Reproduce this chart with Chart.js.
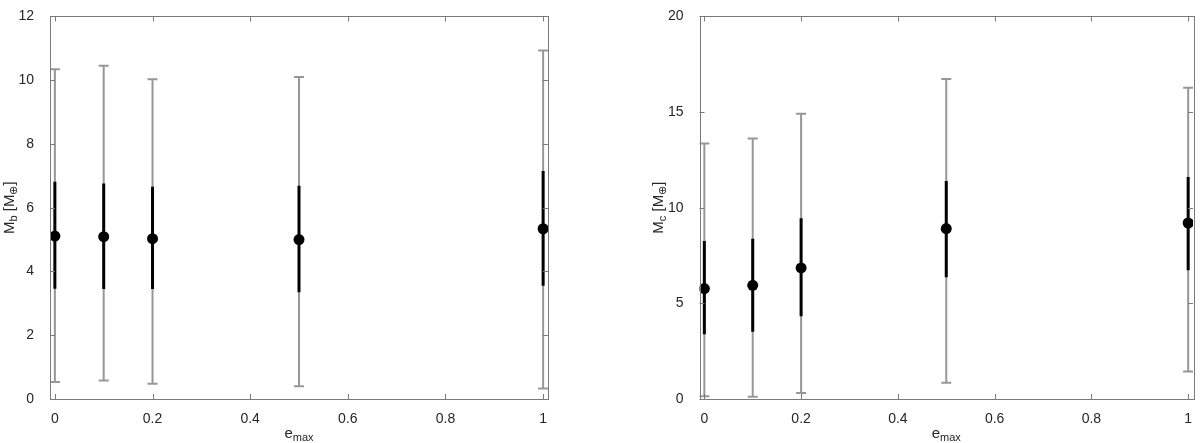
<!DOCTYPE html>
<html>
<head>
<meta charset="utf-8">
<script src="https://cdn.jsdelivr.net/npm/chart.js@4/dist/chart.umd.min.js"></script>
<style>
  html, body { margin: 0; padding: 0; background: #fff; }
  .wrap { position: absolute; top: 0; width: 600px; height: 443px; }
  #left { left: 0; }
  #right { left: 600px; }
</style>
</head>
<body>
<div class="wrap" id="left"><canvas id="cb" width="600" height="443"></canvas></div>
<div class="wrap" id="right"><canvas id="cc" width="600" height="443"></canvas></div>
<script>
/* global Chart */

// e_max values and the tick labels
const eMax = [0, 0.1, 0.2, 0.5, 1];
const xTicks = [0, 0.2, 0.4, 0.6, 0.8, 1];

// planet b mass: median, inner (black) and outer (grey) intervals
const mbMedian  = [5.11, 5.09, 5.03, 5.00, 5.34];
const mbInnerLo = [3.46, 3.45, 3.45, 3.35, 3.55];
const mbInnerHi = [6.81, 6.76, 6.66, 6.69, 7.15];
const mbOuterLo = [0.53, 0.58, 0.48, 0.40, 0.33];
const mbOuterHi = [10.34, 10.45, 10.03, 10.10, 10.93];
const mbTicks = [0, 2, 4, 6, 8, 10, 12];

// planet c mass
const mcMedian  = [5.77, 5.94, 6.85, 8.91, 9.20];
const mcInnerLo = [3.39, 3.51, 4.33, 6.36, 6.73];
const mcInnerHi = [8.26, 8.38, 9.45, 11.40, 11.60];
const mcOuterLo = [0.15, 0.12, 0.32, 0.85, 1.44];
const mcOuterHi = [13.35, 13.62, 14.91, 16.73, 16.27];
const mcTicks = [0, 5, 10, 15, 20];

const GREY = "#979797";
const AXIS = "#7a7a7a";
const TEXT = "#262626";
const FONT = "'Liberation Sans', Arial, Helvetica, sans-serif";

// draws a label with subscripts: parts = [[text, isSub], ...]
function drawRich(ctx, parts, cx, cy, rotate) {
  ctx.save();
  ctx.translate(cx, cy);
  if (rotate) ctx.rotate(-Math.PI / 2);
  const big = "15px " + FONT, small = "11px " + FONT;
  let w = 0;
  parts.forEach(([t, sub]) => { ctx.font = sub ? small : big; w += ctx.measureText(t).width; });
  let x = -w / 2;
  ctx.fillStyle = TEXT;
  ctx.textBaseline = "alphabetic";
  ctx.textAlign = "left";
  parts.forEach(([t, sub]) => {
    ctx.font = sub ? small : big;
    ctx.fillText(t, x, sub ? 8 : 5);
    x += ctx.measureText(t).width;
  });
  ctx.restore();
}

// box around the plot, inward ticks on all four sides, axis titles
const framePlugin = {
  id: "frame",
  afterDraw(chart, args, opts) {
    const { ctx, chartArea: a, scales } = chart;
    ctx.save();
    ctx.strokeStyle = AXIS;
    ctx.lineWidth = 1;
    ctx.strokeRect(Math.round(a.left) + 0.5, Math.round(a.top) + 0.5,
      Math.round(a.right - a.left), Math.round(a.bottom - a.top));
    ctx.beginPath();
    scales.x.ticks.forEach(t => {
      const px = Math.round(scales.x.getPixelForValue(t.value)) + 0.5;
      ctx.moveTo(px, a.bottom); ctx.lineTo(px, a.bottom - 5);
      ctx.moveTo(px, a.top); ctx.lineTo(px, a.top + 5);
    });
    scales.y.ticks.forEach(t => {
      const py = Math.round(scales.y.getPixelForValue(t.value)) + 0.5;
      ctx.moveTo(a.left, py); ctx.lineTo(a.left + 5, py);
      ctx.moveTo(a.right, py); ctx.lineTo(a.right - 5, py);
    });
    ctx.stroke();
    ctx.restore();
    drawRich(ctx, opts.ylabel, opts.ylabelX, (a.top + a.bottom) / 2, true);
    drawRich(ctx, opts.xlabel, (a.left + a.right) / 2, 433, false);
  }
};

function makeChart(id, med, inLo, inHi, outLo, outHi, yTicks, yMax, yWidth, padRight, ylabel, ylabelX) {
  const outer = eMax.map((x, i) => ({ x, y: [outLo[i], outHi[i]] }));
  const inner = eMax.map((x, i) => ({ x, y: [inLo[i], inHi[i]] }));
  const caps = eMax.flatMap((x, i) => [{ x, y: outLo[i] }, { x, y: outHi[i] }]);
  const dots = eMax.map((x, i) => ({ x, y: med[i] }));

  return new Chart(document.getElementById(id), {
    type: "bar",
    data: {
      datasets: [
        { type: "scatter", data: dots, order: 0, pointStyle: "circle", pointRadius: 5.5,
          backgroundColor: "#000", borderWidth: 0, clip: 0 },
        { type: "bar", data: inner, order: 1, grouped: false, barThickness: 3,
          backgroundColor: "#000", borderWidth: 0, inflateAmount: 0 },
        { type: "scatter", data: caps, order: 2, pointStyle: "line", pointRadius: 5,
          borderColor: GREY, borderWidth: 2, clip: 0 },
        { type: "bar", data: outer, order: 3, grouped: false, barThickness: 2,
          backgroundColor: GREY, borderWidth: 0, inflateAmount: 0 }
      ]
    },
    options: {
      responsive: false,
      animation: false,
      events: [],
      layout: { padding: { left: 0, right: padRight, top: 6, bottom: 0 } },
      plugins: {
        legend: { display: false },
        tooltip: { enabled: false },
        frame: { ylabel, ylabelX, xlabel: [["e", false], ["max", true]] }
      },
      scales: {
        x: {
          type: "linear", min: -0.01, max: 1.01, offset: false,
          grid: { display: false, offset: false }, border: { display: false },
          afterBuildTicks: s => { s.ticks = xTicks.map(v => ({ value: v })); },
          afterFit: s => { s.height = 44; },
          ticks: { padding: 4, color: TEXT, font: { family: FONT, size: 14 }, maxRotation: 0,
            callback: v => String(v) }
        },
        y: {
          type: "linear", min: 0, max: yMax,
          grid: { display: false }, border: { display: false },
          afterBuildTicks: s => { s.ticks = yTicks.map(v => ({ value: v })); },
          afterFit: s => { s.width = yWidth; },
          ticks: { padding: 8, color: TEXT, font: { family: FONT, size: 14 },
            callback: v => String(v) }
        }
      }
    },
    plugins: [framePlugin]
  });
}

makeChart("cb", mbMedian, mbInnerLo, mbInnerHi, mbOuterLo, mbOuterHi, mbTicks, 12, 50, 52,
  [["M", false], ["b", true], [" [M", false], ["\u2295", true], ["]", false]], 9);
makeChart("cc", mcMedian, mcInnerLo, mcInnerHi, mcOuterLo, mcOuterHi, mcTicks, 20, 99.5, 2,
  [["M", false], ["c", true], [" [M", false], ["\u2295", true], ["]", false]], 58);
</script>
</body>
</html>
